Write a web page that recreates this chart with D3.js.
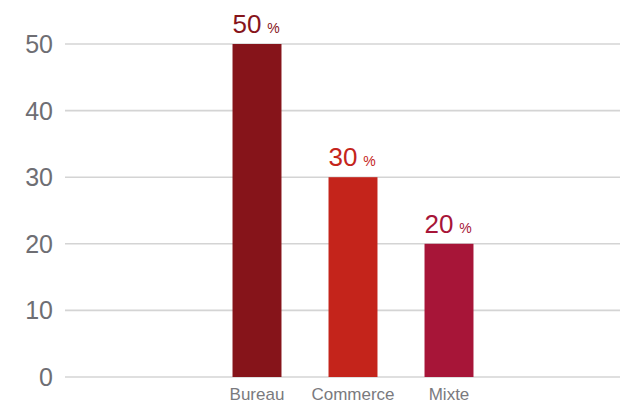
<!DOCTYPE html>
<html>
<head>
<meta charset="utf-8">
<script src="https://cdn.jsdelivr.net/npm/d3@7"></script>
<style>
  body { margin: 0; background: #fff; }
  svg text { font-family: "Liberation Sans", Arial, Helvetica, sans-serif; }
</style>
</head>
<body>
<svg id="chart" width="620" height="403"></svg>
<script>
// data
const categories = ["Bureau", "Commerce", "Mixte"];
const values = [50, 30, 20];
const barColors = ["#86141a", "#c4241b", "#a71538"];
const yTicks = [0, 10, 20, 30, 40, 50];

const svg = d3.select("#chart");

// scales
const y = d3.scaleLinear().domain([0, 50]).range([377, 44]);
const x = d3.scaleBand()
  .domain(categories)
  .range([209, 497])
  .paddingInner(0.49)
  .paddingOuter(0.245);

// gridlines + tick labels
const grid = svg.append("g");
grid.selectAll("line")
  .data(yTicks)
  .enter()
  .append("line")
  .attr("x1", 65)
  .attr("x2", 620)
  .attr("y1", d => y(d))
  .attr("y2", d => y(d))
  .attr("stroke", "#d4d4d4")
  .attr("stroke-width", 1.6);

grid.selectAll("text")
  .data(yTicks)
  .enter()
  .append("text")
  .attr("x", 53)
  .attr("y", d => y(d))
  .attr("dy", "0.36em")
  .attr("text-anchor", "end")
  .attr("font-size", 25)
  .attr("fill", "#6e6e73")
  .text(d => d);

// bars
svg.selectAll("rect.bar")
  .data(values)
  .enter()
  .append("rect")
  .attr("class", "bar")
  .attr("x", (d, i) => x(categories[i]))
  .attr("y", d => y(d))
  .attr("width", x.bandwidth())
  .attr("height", d => y(0) - y(d))
  .attr("fill", (d, i) => barColors[i]);

// value labels
const lbl = svg.selectAll("text.val")
  .data(values)
  .enter()
  .append("text")
  .attr("class", "val")
  .attr("x", (d, i) => x(categories[i]))
  .attr("y", d => y(d) - 11)
  .attr("fill", (d, i) => barColors[i]);
lbl.append("tspan").attr("font-size", 26).text(d => d);
lbl.append("tspan").attr("font-size", 14).attr("dx", 2).text(" %");

// category labels
svg.selectAll("text.cat")
  .data(categories)
  .enter()
  .append("text")
  .attr("class", "cat")
  .attr("x", d => x(d) + x.bandwidth() / 2)
  .attr("y", 400)
  .attr("text-anchor", "middle")
  .attr("font-size", 17)
  .attr("fill", "#7a7a7e")
  .text(d => d);
</script>
</body>
</html>
